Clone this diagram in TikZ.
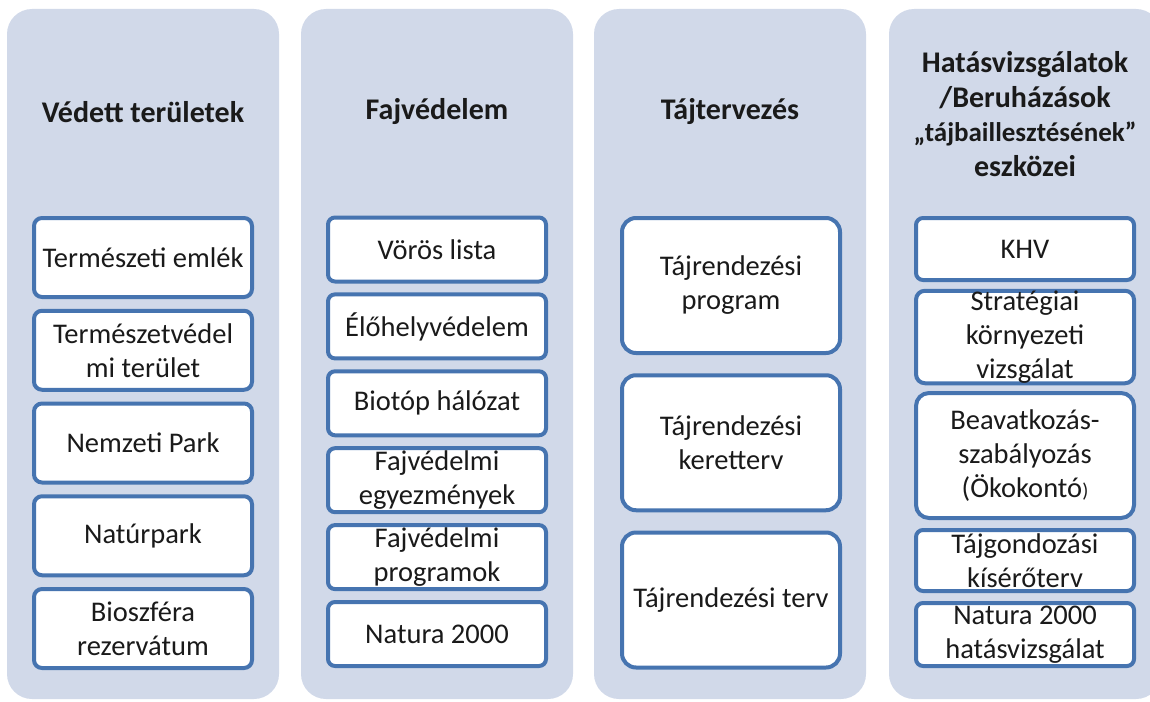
\documentclass[tikz,border=0pt]{standalone}
\usepackage{fontspec}
\setmainfont{Carlito}
\usepackage{xcolor}
\definecolor{colfill}{HTML}{D1D9E9}
\definecolor{boxline}{HTML}{4674B0}
\definecolor{inktext}{HTML}{1A1A1A}
\tikzset{
  colbg/.style={fill=colfill, draw=none, rounded corners=25pt},
  coltitle/.style={align=center, text=inktext, font=\fontsize{30}{34.5}\selectfont\bfseries},
  itembox/.style={draw=boxline, line width=4pt, fill=white, rounded corners=8pt,
    minimum width=218pt, inner sep=0pt, align=center, text=inktext,
    font=\fontsize{28.5}{34}\selectfont},
}
\begin{document}
\begin{tikzpicture}[x=1pt,y=-1pt]
  \useasboundingbox (0,0) rectangle (1150,701);
  \clip (0,0) rectangle (1150,701);

  \draw[colbg] (7,9) rectangle (279,699);
  \draw[colbg] (301,9) rectangle (573,699);
  \draw[colbg] (594,9) rectangle (866,699);
  \draw[colbg] (889,9) rectangle (1161,699);

  \node[coltitle] (t1) at (143,112) {Védett területek};
  \node[coltitle] (t2) at (437,112) {Fajvédelem};
  \node[coltitle] (t3) at (730,112) {Tájtervezés};
  \node[coltitle] (t4) at (1025,114) {Hatásvizsgálatok\\/Beruházások\\{\fontsize{27}{34.5}\selectfont„tájbaillesztésének”}\\eszközei};

  \node[itembox, minimum height=79pt] (v1) at (143,257.5) {Természeti emlék};
  \node[itembox, minimum height=79pt] (v2) at (143,350.25) {Természetvédel\\mi terület};
  \node[itembox, minimum height=79pt] (v3) at (143,443) {Nemzeti Park};
  \node[itembox, minimum height=79pt] (v4) at (143,535.75) {Natúrpark};
  \node[itembox, minimum height=79pt] (v5) at (143,628.5) {Bioszféra\\rezervátum};

  \node[itembox, minimum height=64pt, rounded corners=7pt] (f1) at (437,249.5) {Vörös lista};
  \node[itembox, minimum height=64pt, rounded corners=7pt] (f2) at (437,326.4) {Élőhelyvédelem};
  \node[itembox, minimum height=64pt, rounded corners=7pt] (f3) at (437,403.3) {Biotóp hálózat};
  \node[itembox, minimum height=64pt, rounded corners=7pt] (f4) at (437,480.2) {Fajvédelmi\\egyezmények};
  \node[itembox, minimum height=64pt, rounded corners=7pt] (f5) at (437,557.1) {Fajvédelmi\\programok};
  \node[itembox, minimum height=64pt, rounded corners=7pt] (f6) at (437,634) {Natura 2000};

  \node[itembox, minimum height=135pt, rounded corners=14pt] (j1) at (731,285.5) {Tájrendezési\\program};
  \node[itembox, minimum height=135pt, rounded corners=14pt] (j2) at (731,442.75) {Tájrendezési\\keretterv};
  \node[itembox, minimum height=135pt, rounded corners=14pt] (j3) at (731,600) {Tájrendezési terv};

  \node[itembox, minimum height=62pt, rounded corners=7pt] (h1) at (1025,249) {KHV};
  \node[itembox, minimum height=90pt, rounded corners=9pt] (h2) at (1025,337) {Stratégiai\\környezeti\\vizsgálat};
  \node[itembox, minimum height=125pt, rounded corners=13pt] (h3) at (1025,455.5) {Beavatkozás-\\szabályozás\\(Ökokontó{\fontsize{20}{24}\selectfont)}};
  \node[itembox, minimum height=61pt, rounded corners=7pt] (h4) at (1025,560.5) {Tájgondozási\\kísérőterv};
  \node[itembox, minimum height=63pt, rounded corners=7pt] (h5) at (1025,634.5) {Natura 2000\\hatásvizsgálat};
\end{tikzpicture}
\end{document}
